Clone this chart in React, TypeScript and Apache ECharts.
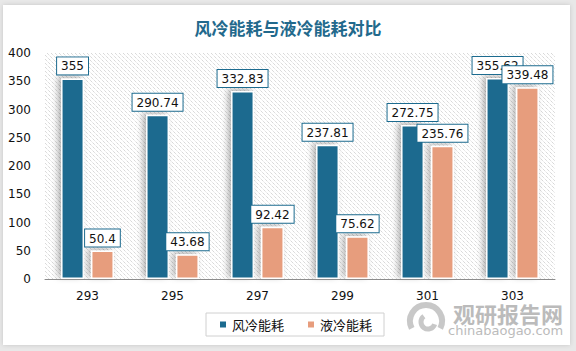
import React, { useEffect, useRef } from "react";
import * as echarts from "echarts";

const categories = ["293", "295", "297", "299", "301", "303"];
const airCooling = [355, 290.74, 332.83, 237.81, 272.75, 355.62];
const liquidCooling = [50.4, 43.68, 92.42, 75.62, 235.76, 339.48];
const seriesNames = ["风冷能耗", "液冷能耗"];
const titleText = "风冷能耗与液冷能耗对比";

const W = 576;
const H = 351;
const G = { left: 45, right: 21, top: 53, bottom: 72 };

function hatchLines() {
  const L = G.left, R = W - G.right, T = G.top, B = H - G.bottom;
  const out: any[] = [];
  const step = 4;
  for (let c = L - (B - T); c <= R; c += step) {
    const x1 = Math.max(L, c);
    const x2 = Math.min(R, c + (B - T));
    if (x2 <= x1) continue;
    const y1 = T + (x1 - c);
    const y2 = T + (x2 - c);
    out.push({
      type: "line",
      z: 1,
      silent: true,
      shape: { x1, y1, x2, y2 },
      style: { stroke: "#c8c8c8", lineWidth: 1, lineDash: [1, 1] },
    });
  }
  return out;
}

export default function App() {
  const ref = useRef<HTMLDivElement>(null);
  useEffect(() => {
    if (!ref.current) return;
    const chart = echarts.init(ref.current, null, { renderer: "svg" });
    const font = "'DejaVu Sans', 'Noto Sans CJK SC', sans-serif";
    const labelCommon = {
      show: true,
      position: "top",
      distance: 4,
      backgroundColor: "#fff",
      borderColor: "#1c6b8f",
      borderWidth: 1,
      padding: [3, 4, 2, 4],
      fontSize: 12,
      color: "#111",
      fontFamily: font,
    };
    const itemShadow = {
      borderColor: "#fff",
      borderWidth: 1.5,
      shadowColor: "rgba(0,0,0,0.3)",
      shadowBlur: 6,
      shadowOffsetX: -3,
      shadowOffsetY: -2,
    };
    chart.setOption({
      animation: false,
      backgroundColor: "#e8e8e8",
      textStyle: { fontFamily: font },
      title: {
        text: titleText,
        left: "center",
        top: 14,
        textStyle: {
          fontFamily: "'Noto Sans CJK SC', sans-serif",
          fontSize: 17,
          fontWeight: "bold",
          color: "#22698c",
        },
      },
      legend: {
        data: seriesNames,
        left: 206,
        top: 313,
        icon: "rect",
        itemWidth: 8,
        itemHeight: 8,
        itemGap: 22,
        borderColor: "#d0d0d0",
        borderWidth: 1,
        padding: [5, 12, 5, 12],
        textStyle: {
          fontFamily: "'Noto Sans CJK SC', sans-serif",
          fontSize: 13,
          color: "#111",
        },
      },
      grid: { ...G, containLabel: false },
      xAxis: {
        type: "category",
        data: categories,
        axisLine: { lineStyle: { color: "#8c8c8c", width: 1 } },
        axisTick: { show: false },
        axisLabel: { color: "#111", fontSize: 12, margin: 11, lineHeight: 12 },
        z: 5,
      },
      yAxis: {
        type: "value",
        min: 0,
        max: 400,
        interval: 50,
        axisLine: { show: false },
        axisTick: { show: false },
        splitLine: { show: false },
        axisLabel: { color: "#111", fontSize: 12, margin: 14 },
      },
      graphic: [
        {
          type: "rect",
          z: 0,
          silent: true,
          shape: { x: 3, y: 5, width: 567, height: 340 },
          style: {
            fill: "#fff",
            shadowColor: "rgba(0,0,0,0.15)",
            shadowBlur: 4,
          },
        },
        ...hatchLines(),
        {
          type: "arc",
          z: 1,
          silent: true,
          shape: { cx: 426, cy: 321, r: 16, startAngle: Math.PI * 0.85, endAngle: Math.PI * 2.15 },
          style: { stroke: "#c8c8c8", lineWidth: 6, fill: "none" },
        },
        {
          type: "arc",
          z: 1,
          silent: true,
          shape: { cx: 428, cy: 322, r: 7, startAngle: Math.PI * 0.1, endAngle: Math.PI * 1.3 },
          style: { stroke: "#c8c8c8", lineWidth: 5, fill: "none" },
        },
        {
          type: "text",
          z: 1,
          silent: true,
          left: 453,
          top: 302,
          style: {
            text: "观研报告网",
            font: "bold 22px 'Noto Sans CJK SC', sans-serif",
            lineHeight: 21,
            fill: "#bbbbbb",
          },
        },
        {
          type: "text",
          z: 1,
          silent: true,
          left: 448,
          top: 324,
          style: {
            text: "chinabaogao.com",
            font: "13px 'DejaVu Sans', sans-serif",
            lineHeight: 13,
            fill: "#bbbbbb",
          },
        },
      ],
      series: [
        {
          name: seriesNames[0],
          type: "bar",
          data: airCooling,
          barWidth: 23,
          barGap: "30%",
          itemStyle: { color: "#1c6b8f", ...itemShadow },
          label: labelCommon,
          z: 3,
        },
        {
          name: seriesNames[1],
          type: "bar",
          data: liquidCooling,
          barWidth: 23,
          barGap: "30%",
          itemStyle: { color: "#e79d7d", ...itemShadow },
          label: labelCommon,
          z: 4,
        },
      ],
    });
    return () => chart.dispose();
  }, []);
  return (
    <div style={{ position: "fixed", left: 0, top: 0, width: W, height: H }}>
      <div ref={ref} style={{ width: W, height: H }} />
    </div>
  );
}
